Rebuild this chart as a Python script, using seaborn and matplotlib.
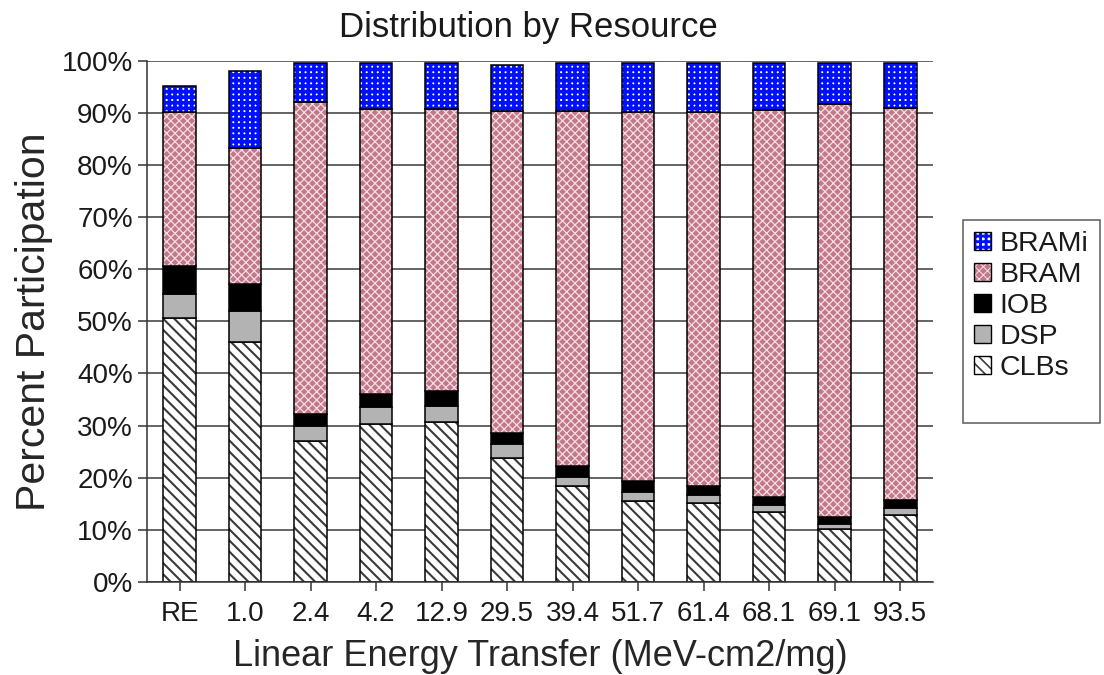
import matplotlib
matplotlib.use('Agg')
import matplotlib.pyplot as plt
import matplotlib.patches as mpatches
from matplotlib.legend_handler import HandlerTuple
from matplotlib.ticker import PercentFormatter
import seaborn as sns

# LET categories and the share of each resource (percent)
let_labels = ['RE', '1.0', '2.4', '4.2', '12.9', '29.5', '39.4', '51.7', '61.4', '68.1', '69.1', '93.5']
clbs = [50.6, 46.0, 27.1, 30.3, 30.6, 23.7, 18.3, 15.6, 15.1, 13.5, 10.2, 12.9]
dsp = [4.6, 6.0, 2.9, 3.2, 3.2, 2.7, 1.9, 1.6, 1.6, 1.2, 0.9, 1.3]
iob = [5.4, 5.1, 2.2, 2.6, 2.9, 2.1, 2.1, 2.2, 1.7, 1.6, 1.4, 1.5]
bram = [29.5, 26.1, 59.8, 54.7, 54.1, 61.8, 68.1, 70.7, 71.7, 74.3, 79.2, 75.2]
brami = [5.1, 14.9, 7.5, 8.7, 8.7, 8.9, 9.1, 9.4, 9.4, 8.9, 7.8, 8.6]

layer_names = ['CLBs', 'DSP', 'IOB', 'BRAM', 'BRAMi']
layer_values = [clbs, dsp, iob, bram, brami]
# (face colour, hatch, hatch colour, hatch linewidth)
layer_styles = [
    ('white', '\\\\\\', '#3a3a3a', 1.5),
    ('#b3b3b3', None, '#b3b3b3', 1.0),
    ('black', None, 'black', 1.0),
    ('#c27888', 'xxxx', '#f4dde3', 0.9),
    ('white', '+++', '#0010ff', 2.6),
]
hatch_lw = {h: lw for _, h, _, lw in layer_styles if h}


def set_hlw(patch, lw):
    if hasattr(patch, 'set_hatch_linewidth'):
        patch.set_hatch_linewidth(lw)
    else:
        patch._hatch_linewidth = lw


sns.set_style('ticks')
plt.rcParams['font.family'] = ['Liberation Sans', 'DejaVu Sans']
plt.rcParams['text.color'] = '#1a1a1a'
plt.rcParams['xtick.color'] = '#333333'
plt.rcParams['ytick.color'] = '#333333'
plt.rcParams['xtick.labelcolor'] = '#1a1a1a'
plt.rcParams['ytick.labelcolor'] = '#1a1a1a'

fig = plt.figure(figsize=(11.04, 6.75), dpi=100)
ax = fig.add_axes([0.133, 0.138, 0.712, 0.772])

bottom = [0.0] * len(let_labels)
handles = []
for name, vals, (fc, hatch, hc, hlw) in zip(layer_names, layer_values, layer_styles):
    # fill + hatch pass
    sns.barplot(x=let_labels, y=vals, order=let_labels, color=fc, width=0.5,
                bottom=bottom, errorbar=None, saturation=1, ax=ax)
    for bar in ax.containers[-1]:
        bar.set_facecolor(fc)
        bar.set_edgecolor(hc)
        bar.set_linewidth(0)
        if hatch:
            bar.set_hatch(hatch)
            set_hlw(bar, hlw)
    # outline pass
    sns.barplot(x=let_labels, y=vals, order=let_labels, color='black', width=0.5,
                bottom=bottom, errorbar=None, fill=False, ax=ax)
    for bar in ax.containers[-1]:
        bar.set_facecolor('none')
        bar.set_edgecolor('black')
        bar.set_linewidth(1.1)

    h_fill = mpatches.Patch(facecolor=fc, edgecolor=hc, linewidth=0, hatch=hatch)
    h_edge = mpatches.Patch(facecolor='none', edgecolor='black', linewidth=1.0)
    handles.append((h_fill, h_edge))
    bottom = [b + v for b, v in zip(bottom, vals)]

ax.set_ylim(0, 100)
ax.set_xlim(-0.5, len(let_labels) - 0.5)
ax.set_yticks(range(0, 101, 10))
ax.yaxis.set_major_formatter(PercentFormatter(decimals=0))
ax.yaxis.grid(True, color='#3a3a3a', linewidth=1.1)
ax.set_axisbelow(True)
for s in ['top', 'right']:
    ax.spines[s].set_visible(False)
for s in ['left', 'bottom']:
    ax.spines[s].set_color('#333333')
    ax.spines[s].set_linewidth(1.1)
ax.tick_params(axis='both', labelsize=20, length=6.5, width=1.1)
ax.tick_params(axis='x', pad=7)

ax.set_title('Distribution by Resource', fontsize=25, pad=17, x=0.486)
ax.set_xlabel('Linear Energy Transfer (MeV-cm2/mg)', fontsize=26, labelpad=9)
ax.set_ylabel('Percent Participation', fontsize=29.5, labelpad=6)

# blank last row leaves the extra room seen under "CLBs" in the original legend box
blank = mpatches.Patch(facecolor='none', edgecolor='none')
leg = fig.legend(handles[::-1] + [blank], layer_names[::-1] + [' '], loc='upper left',
                 bbox_to_anchor=(963 / 1104, 1 - 220 / 675), fontsize=20.5, frameon=True,
                 fancybox=False, handler_map={tuple: HandlerTuple(ndivide=1, pad=0)},
                 handlelength=0.6, handleheight=0.6, handletextpad=0.28,
                 labelspacing=0.17, borderpad=0.4, borderaxespad=0)
leg.get_frame().set_edgecolor('#333333')
leg.get_frame().set_linewidth(1.1)
for p in leg.findobj(mpatches.Rectangle):
    h = p.get_hatch()
    if h in hatch_lw:
        set_hlw(p, hatch_lw[h] * 0.8)

fig.savefig('out.png', dpi=100)
